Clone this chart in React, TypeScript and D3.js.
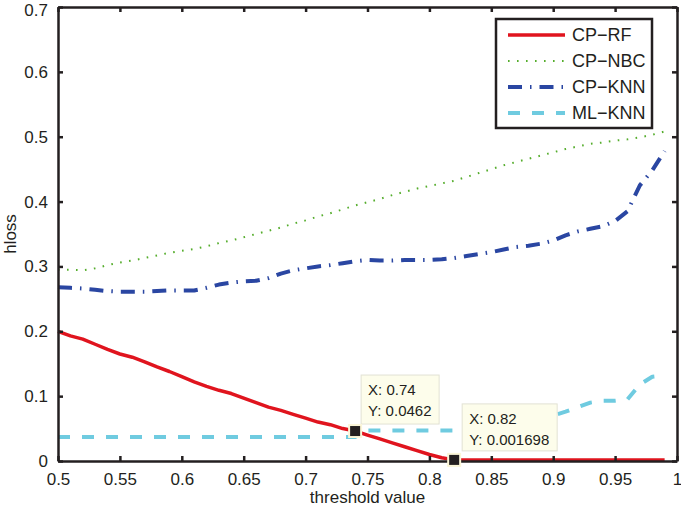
import React, { useEffect, useRef } from 'react';
import * as d3 from 'd3';

const thresholds = [
    0.5, 0.51, 0.52, 0.53, 0.54, 0.55, 0.56, 0.57, 0.58, 0.59,
    0.6, 0.61, 0.62, 0.63, 0.64, 0.65, 0.66, 0.67, 0.68, 0.69,
    0.7, 0.71, 0.72, 0.73, 0.74, 0.75, 0.76, 0.77, 0.78, 0.79,
    0.8, 0.81, 0.82, 0.83, 0.84, 0.85, 0.86, 0.87, 0.88, 0.89,
    0.9, 0.91, 0.92, 0.93, 0.94, 0.95, 0.96, 0.97, 0.98, 0.99,
];

const cpRF = [
    0.2, 0.193, 0.188, 0.18, 0.172, 0.165, 0.16, 0.153, 0.145, 0.138,
    0.13, 0.122, 0.115, 0.109, 0.104, 0.097, 0.09, 0.083, 0.078, 0.072,
    0.066, 0.06, 0.056, 0.05, 0.0462, 0.04, 0.034, 0.028, 0.022, 0.016,
    0.01, 0.005, 0.001698, 0.0016, 0.0016, 0.0015, 0.0015, 0.0015, 0.0015, 0.0015,
    0.0015, 0.0015, 0.0015, 0.0015, 0.0015, 0.0015, 0.0015, 0.0015, 0.0015, 0.0015,
];

const cpNBC = [
    0.295, 0.295, 0.294, 0.297, 0.302, 0.306, 0.309, 0.313, 0.317, 0.321,
    0.324, 0.327, 0.331, 0.336, 0.34, 0.345, 0.35, 0.355, 0.36, 0.366,
    0.371, 0.377, 0.382, 0.388, 0.394, 0.399, 0.404, 0.41, 0.415, 0.42,
    0.424, 0.428, 0.432, 0.438, 0.444, 0.45, 0.456, 0.461, 0.466, 0.471,
    0.476, 0.481, 0.485, 0.489, 0.491, 0.494, 0.496, 0.499, 0.503, 0.508,
];

const cpKNN = [
    0.268, 0.267, 0.266, 0.264, 0.262, 0.261, 0.261, 0.261, 0.262, 0.263,
    0.263, 0.263, 0.267, 0.272, 0.275, 0.277, 0.278, 0.282, 0.289, 0.294,
    0.297, 0.3, 0.302, 0.305, 0.308, 0.31, 0.309, 0.309, 0.31, 0.31,
    0.31, 0.311, 0.313, 0.316, 0.319, 0.322, 0.326, 0.33, 0.332, 0.335,
    0.34, 0.348, 0.354, 0.358, 0.362, 0.37, 0.385, 0.425, 0.448, 0.478,
];

const mlKNN = [
    0.037, 0.037, 0.037, 0.037, 0.037, 0.037, 0.037, 0.037, 0.037, 0.037,
    0.037, 0.037, 0.037, 0.037, 0.037, 0.037, 0.037, 0.037, 0.037, 0.037,
    0.037, 0.037, 0.037, 0.037, 0.037, 0.047, 0.047, 0.047, 0.047, 0.047,
    0.047, 0.047, 0.047, 0.047, 0.047, 0.047, 0.048, 0.05, 0.055, 0.062,
    0.07, 0.076, 0.083, 0.09, 0.093, 0.093, 0.095, 0.118, 0.13, 0.132,
];

const seriesNames = ['CP\u2212RF', 'CP\u2212NBC', 'CP\u2212KNN', 'ML\u2212KNN'];
const xTicks = [0.5, 0.55, 0.6, 0.65, 0.7, 0.75, 0.8, 0.85, 0.9, 0.95, 1];
const xTickLabels = ['0.5', '0.55', '0.6', '0.65', '0.7', '0.75', '0.8', '0.85', '0.9', '0.95', '1'];
const yTicks = [0, 0.1, 0.2, 0.3, 0.4, 0.5, 0.6, 0.7];
const yTickLabels = ['0', '0.1', '0.2', '0.3', '0.4', '0.5', '0.6', '0.7'];

// data tips shown on the CP-RF curve
const tipPoints = [
    { x: 0.74, y: 0.0462, xText: '0.74', yText: '0.0462' },
    { x: 0.82, y: 0.001698, xText: '0.82', yText: '0.001698' },
];

const FONT = 'Liberation Sans, Arial, Helvetica, sans-serif';

export default function App() {
    const svgRef = useRef<SVGSVGElement>(null);

    useEffect(() => {
        const svg = d3.select(svgRef.current);
        svg.selectAll('*').remove();

        const width = 681;
        const height = 506;
        const margin = { top: 7, right: 4, bottom: 45, left: 58 };
        const innerW = width - margin.left - margin.right;
        const innerH = height - margin.top - margin.bottom;

        svg.attr('width', width).attr('height', height);
        svg.append('rect').attr('width', width).attr('height', height).attr('fill', '#fff');

        const chart = svg.append('g').attr('transform', `translate(${margin.left},${margin.top})`);

        const xScale = d3.scaleLinear().domain([0.5, 1]).range([0, innerW]);
        const yScale = d3.scaleLinear().domain([0, 0.7]).range([innerH, 0]);

        const styles = [
            { values: cpRF, color: '#e0141e', width: 3.5, dash: null },
            { values: cpNBC, color: '#55ad2c', width: 2, dash: '1.6,7.4' },
            { values: cpKNN, color: '#2a46a2', width: 4, dash: '14,8,1.5,8' },
            { values: mlKNN, color: '#6fcbe0', width: 4, dash: '12,12' },
        ];

        const line = d3.line<number>()
            .x((_, i) => xScale(thresholds[i]))
            .y((d) => yScale(d));

        // series, drawn back to front
        [3, 2, 1, 0].forEach((k) => {
            const s = styles[k];
            chart.append('path')
                .datum(s.values)
                .attr('d', line)
                .attr('fill', 'none')
                .attr('stroke', s.color)
                .attr('stroke-width', s.width)
                .attr('stroke-dasharray', s.dash)
                .attr('stroke-linejoin', 'round');
        });

        // axes: frame with inward ticks on all sides
        const axisColor = '#231f20';
        const xAxisB = d3.axisBottom(xScale).tickValues(xTicks).tickSizeInner(-5).tickSizeOuter(0)
            .tickFormat((_, i) => xTickLabels[i]).tickPadding(12);
        const xAxisT = d3.axisTop(xScale).tickValues(xTicks).tickSizeInner(-5).tickSizeOuter(0).tickFormat(() => '');
        const yAxisL = d3.axisLeft(yScale).tickValues(yTicks).tickSizeInner(-5).tickSizeOuter(0)
            .tickFormat((_, i) => yTickLabels[i]).tickPadding(10);
        const yAxisR = d3.axisRight(yScale).tickValues(yTicks).tickSizeInner(-5).tickSizeOuter(0).tickFormat(() => '');

        const styleAxis = (g) => {
            g.selectAll('path').attr('stroke', axisColor).attr('stroke-width', 2.5);
            g.selectAll('line').attr('stroke', axisColor).attr('stroke-width', 2.5);
            g.selectAll('text').attr('fill', '#231f20').style('font-family', FONT).style('font-size', '17px');
        };

        chart.append('g').attr('transform', `translate(0,${innerH})`).call(xAxisB).call(styleAxis);
        chart.append('g').call(xAxisT).call(styleAxis);
        const yLeft = chart.append('g').call(yAxisL).call(styleAxis);
        // keep the top label inside the page
        yLeft.selectAll('.tick text').filter((d) => d === 0.7).attr('dy', '0.5em');
        chart.append('g').attr('transform', `translate(${innerW},0)`).call(yAxisR).call(styleAxis);

        // data tips
        const tipBoxes = [
            { dx: 6, dy: -56, w: 78, h: 49 },
            { dx: 8, dy: -56, w: 95, h: 47 },
        ];
        tipPoints.forEach((p, i) => {
            const px = xScale(p.x);
            const py = yScale(p.y);
            const b = tipBoxes[i];
            const g = chart.append('g');
            g.append('rect')
                .attr('x', px + b.dx).attr('y', py + b.dy)
                .attr('width', b.w).attr('height', b.h)
                .attr('fill', '#fdfdeb').attr('stroke', '#e2e2d4').attr('stroke-width', 1);
            g.append('text')
                .attr('x', px + b.dx + 7).attr('y', py + b.dy + 20)
                .style('font-family', FONT).style('font-size', '15px').attr('fill', '#231f20')
                .text(`X: ${p.xText}`);
            g.append('text')
                .attr('x', px + b.dx + 7).attr('y', py + b.dy + 41)
                .style('font-family', FONT).style('font-size', '15px').attr('fill', '#231f20')
                .text(`Y: ${p.yText}`);
            g.append('rect')
                .attr('x', px - 7).attr('y', py - 7).attr('width', 14).attr('height', 14)
                .attr('fill', '#fbf6d8');
            g.append('rect')
                .attr('x', px - 5).attr('y', py - 5).attr('width', 10).attr('height', 10)
                .attr('fill', '#231f20');
        });

        // legend
        const legend = svg.append('g').attr('transform', 'translate(496,19)');
        legend.append('rect')
            .attr('width', 156).attr('height', 109)
            .attr('fill', '#fff').attr('stroke', axisColor).attr('stroke-width', 2.5);
        seriesNames.forEach((name, i) => {
            const s = styles[i];
            const y = 16 + i * 26;
            legend.append('line')
                .attr('x1', 12).attr('x2', 69).attr('y1', y).attr('y2', y)
                .attr('stroke', s.color).attr('stroke-width', s.width)
                .attr('stroke-dasharray', s.dash);
            legend.append('text')
                .attr('x', 76).attr('y', y + 6)
                .style('font-family', FONT).style('font-size', '18px').attr('fill', '#231f20')
                .text(name);
        });

        // x-axis label
        svg.append('text')
            .attr('x', margin.left + innerW / 2)
            .attr('y', 503)
            .attr('text-anchor', 'middle')
            .style('font-family', FONT).style('font-size', '17px').attr('fill', '#231f20')
            .text('threshold value');

        // y-axis label
        svg.append('text')
            .attr('x', -(margin.top + innerH / 2))
            .attr('y', 16)
            .attr('text-anchor', 'middle')
            .attr('transform', 'rotate(-90)')
            .style('font-family', FONT).style('font-size', '17px').attr('fill', '#231f20')
            .text('hloss');
    }, []);

    return (
        <svg ref={svgRef} style={{ position: 'absolute', left: 0, top: 0, display: 'block' }} />
    );
}
